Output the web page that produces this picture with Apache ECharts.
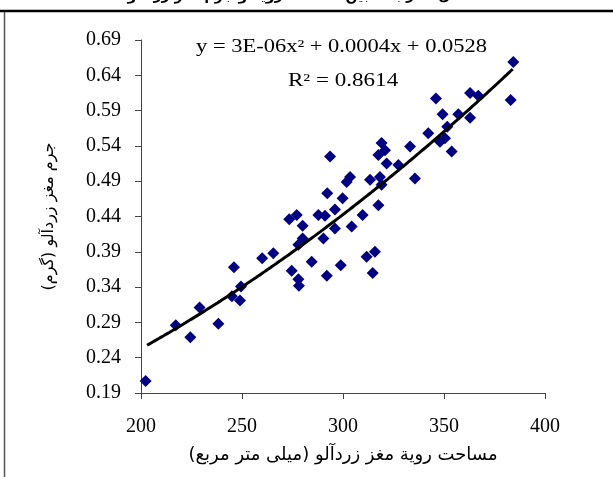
<!DOCTYPE html>
<html>
<head>
<meta charset="utf-8">
<script src="https://cdn.jsdelivr.net/npm/echarts@6/dist/echarts.min.js"></script>
<style>
  html, body { margin: 0; padding: 0; background: #fff; }
  #chart { width: 613px; height: 477px; }
</style>
</head>
<body>
<div id="chart"></div>
<script>
// Kernel surface area (mm²) vs kernel mass (g)
const areaValues = [
  202.3, 217.2, 224.4, 229.0, 238.3, 246.0, 245.0, 249.5, 249.0, 260.0,
  265.5, 274.6, 277.9, 278.2, 280.0, 280.0, 277.9, 284.5, 290.3, 292.0,
  273.4, 277.1, 287.8, 291.1, 292.2, 296.0, 296.0, 293.6, 299.8, 301.8,
  303.5, 304.3, 298.9, 309.7, 313.4, 317.5, 311.7, 315.8, 314.7, 319.1,
  317.5, 320.8, 321.6, 327.4, 318.3, 319.1, 333.2, 335.6, 342.2, 346.0,
  348.0, 350.5, 349.3, 351.6, 353.8, 357.1, 362.9, 362.9, 367.0, 383.0,
  384.3
];
const massValues = [
  0.207, 0.286, 0.269, 0.311, 0.288, 0.368, 0.327, 0.341, 0.321, 0.381,
  0.388, 0.363, 0.351, 0.342, 0.427, 0.409, 0.400, 0.376, 0.409, 0.356,
  0.436, 0.442, 0.442, 0.441, 0.473, 0.450, 0.423, 0.525, 0.466, 0.489,
  0.496, 0.426, 0.371, 0.442, 0.492, 0.456, 0.383, 0.390, 0.360, 0.544,
  0.527, 0.534, 0.515, 0.513, 0.496, 0.485, 0.539, 0.494, 0.558, 0.607,
  0.546, 0.551, 0.585, 0.567, 0.532, 0.585, 0.615, 0.580, 0.611, 0.605,
  0.659
];

// Quadratic trendline coefficients: y = a x² + b x + c
const trendA = 3e-6, trendB = 0.0004, trendC = 0.0528;
const rSquared = 0.8614;
const trendRange = [203, 384];

const xTicks = [200, 250, 300, 350, 400];
const yTicks = [0.19, 0.24, 0.29, 0.34, 0.39, 0.44, 0.49, 0.54, 0.59, 0.64, 0.69];

const figureTitle = 'شکل ۵- رابطه بین مساحت رویه و جرم مغز زردآلو';
const xAxisTitle = 'مساحت رویة مغز زردآلو (میلی متر مربع)';
const yAxisTitle = 'جرم مغز زردآلو (گرم)';
const equationText = 'y = 3E-06x² + 0.0004x + 0.0528';
const rSquaredText = 'R² = ' + rSquared.toFixed(4);

const points = areaValues.map((x, i) => [x, massValues[i]]);
const trendPoints = [];
for (let x = trendRange[0]; x <= trendRange[1]; x += 1) {
  trendPoints.push([x, trendA * x * x + trendB * x + trendC]);
}

const serif = '"Liberation Serif", "Times New Roman", serif';
const arabic = '"DejaVu Sans", sans-serif';
const chart = echarts.init(document.getElementById('chart'), null, { renderer: 'canvas' });

chart.setOption({
  animation: false,
  backgroundColor: '#ffffff',
  grid: { left: 141, right: 68, top: 40, bottom: 84 },
  xAxis: {
    type: 'value',
    min: xTicks[0],
    max: xTicks[xTicks.length - 1],
    interval: 50,
    name: xAxisTitle,
    nameLocation: 'middle',
    nameGap: 53,
    nameTextStyle: { fontFamily: arabic, fontSize: 18, color: '#000' },
    axisLine: { lineStyle: { color: '#444', width: 1 } },
    axisTick: { show: true, inside: false, length: 6, lineStyle: { color: '#444' } },
    axisLabel: { fontFamily: serif, fontSize: 20, color: '#000', margin: 24 },
    splitLine: { show: false }
  },
  yAxis: {
    type: 'value',
    min: yTicks[0],
    max: yTicks[yTicks.length - 1],
    name: yAxisTitle,
    nameLocation: 'middle',
    nameRotate: 90,
    nameGap: 84,
    nameTextStyle: { fontFamily: arabic, fontSize: 16, color: '#000' },
    axisLine: { show: true, lineStyle: { color: '#444', width: 1 } },
    axisTick: { show: true, length: 6, lineStyle: { color: '#444' }, customValues: yTicks },
    axisLabel: {
      fontFamily: serif, fontSize: 20, color: '#000', margin: 20,
      customValues: yTicks,
      formatter: v => v.toFixed(2)
    },
    splitLine: { show: false }
  },
  series: [
    {
      type: 'scatter',
      data: points,
      symbol: 'diamond',
      symbolSize: 12,
      itemStyle: { color: '#000080', opacity: 1 },
      z: 2
    },
    {
      type: 'line',
      data: trendPoints,
      showSymbol: false,
      smooth: false,
      lineStyle: { color: '#000', width: 3 },
      z: 3
    }
  ],
  graphic: [
    {
      type: 'text', x: 300, y: -11,
      style: { text: figureTitle, font: 'bold 14px ' + arabic, fill: '#000', align: 'center' }
    },
    { type: 'line', shape: { x1: 0, y1: 11, x2: 613, y2: 11 }, style: { stroke: '#000', lineWidth: 2.5 } },
    { type: 'line', shape: { x1: 4.5, y1: 12, x2: 4.5, y2: 477 }, style: { stroke: '#555', lineWidth: 1.5 } },
    {
      type: 'text', x: 196, y: 38, scaleX: 1.25,
      style: { text: equationText, font: '18px ' + serif, fill: '#000' }
    },
    {
      type: 'text', x: 288, y: 72, scaleX: 1.28,
      style: { text: rSquaredText, font: '18px ' + serif, fill: '#000' }
    }
  ]
});
</script>
</body>
</html>
